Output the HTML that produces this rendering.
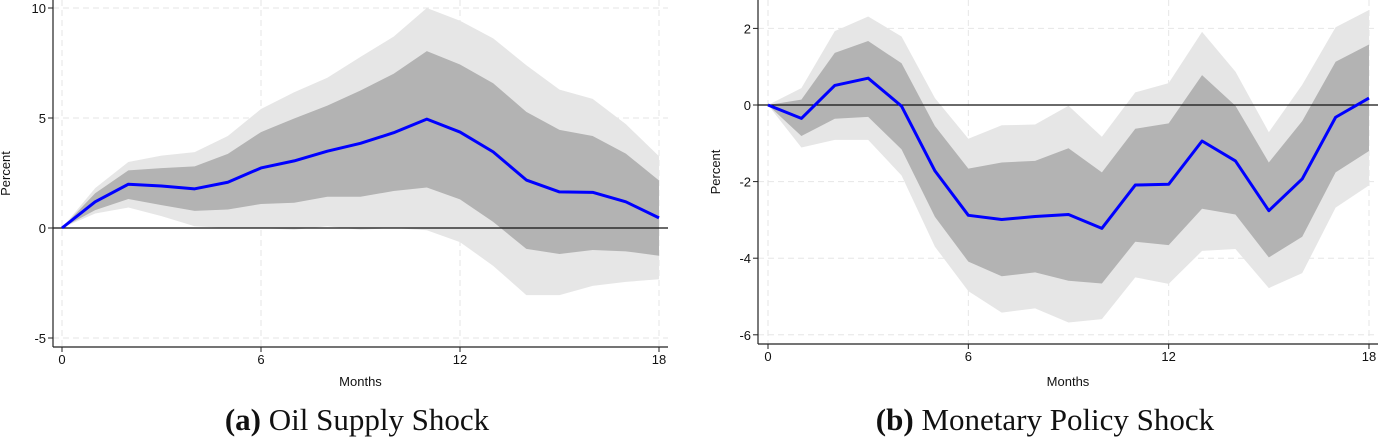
<!DOCTYPE html>
<html><head><meta charset="utf-8"><style>
body{margin:0;background:#fff;width:1382px;height:441px;overflow:hidden}
svg{display:block}
.cap{font-family:"Liberation Serif",serif;font-size:31px;fill:#111}
.tk{font-family:"Liberation Sans",sans-serif;font-size:13px;fill:#111}
</style></head><body>
<svg id="fig" width="1382" height="441" viewBox="0 0 1382 441"></svg>
<script>
const months=[0,1,2,3,4,5,6,7,8,9,10,11,12,13,14,15,16,17,18];
const oilMean=[0,1.19,1.99,1.91,1.78,2.08,2.73,3.05,3.49,3.85,4.33,4.95,4.36,3.46,2.18,1.64,1.62,1.19,0.46];
const oilDarkHi=[0,1.58,2.62,2.72,2.80,3.37,4.36,4.98,5.56,6.25,7.01,8.04,7.43,6.58,5.28,4.46,4.18,3.38,2.16];
const oilDarkLo=[0,0.81,1.32,1.04,0.78,0.84,1.09,1.15,1.42,1.42,1.68,1.84,1.30,0.28,-0.95,-1.18,-1.0,-1.06,-1.26];
const oilLightHi=[0,1.81,3.0,3.29,3.45,4.18,5.41,6.17,6.83,7.78,8.70,10.0,9.42,8.62,7.40,6.29,5.87,4.72,3.26];
const oilLightLo=[0,0.66,0.93,0.54,0.08,0,0,-0.08,0.08,-0.08,0,-0.1,-0.64,-1.72,-3.05,-3.05,-2.63,-2.45,-2.33];
const monMean=[0,-0.35,0.51,0.70,-0.03,-1.72,-2.88,-2.99,-2.91,-2.86,-3.22,-2.09,-2.07,-0.94,-1.46,-2.76,-1.93,-0.32,0.18];
const monDarkHi=[0,0.14,1.36,1.67,1.09,-0.55,-1.66,-1.50,-1.46,-1.13,-1.76,-0.62,-0.48,0.78,-0.02,-1.50,-0.42,1.13,1.58];
const monDarkLo=[0,-0.81,-0.36,-0.31,-1.16,-2.92,-4.09,-4.47,-4.37,-4.59,-4.66,-3.57,-3.66,-2.71,-2.86,-3.98,-3.44,-1.76,-1.2];
const monLightHi=[0,0.44,1.93,2.31,1.79,0.18,-0.88,-0.53,-0.51,-0.02,-0.83,0.33,0.57,1.91,0.87,-0.71,0.53,2.03,2.48];
const monLightLo=[0,-1.11,-0.91,-0.91,-1.84,-3.70,-4.86,-5.42,-5.31,-5.68,-5.59,-4.50,-4.67,-3.81,-3.76,-4.78,-4.39,-2.68,-2.10];
const xTicks=[0,6,12,18];
const oilYTicks=[-5,0,5,10];
const monYTicks=[-6,-4,-2,0,2];

const NS="http://www.w3.org/2000/svg";
const svg=document.getElementById('fig');
function mk(tag,attrs,parent){const e=document.createElementNS(NS,tag);for(const k in attrs)e.setAttribute(k,attrs[k]);(parent||svg).appendChild(e);return e;}

function panel(cfg){
  const g=mk('g',{});
  
  
  const X=m=>cfg.x0+(m-months[0])*(cfg.x1-cfg.x0)/(months[months.length-1]-months[0]);
  const Y=v=>cfg.yZero-v*cfg.yUnit;
  xTicks.forEach(t=>{const l=mk('line',{x1:X(t),x2:X(t),y1:cfg.top,y2:cfg.bottom,stroke:'#e6e6e6','stroke-dasharray':'6,4','stroke-width':1},g);
    });
  cfg.yTicks.forEach(t=>{const l=mk('line',{x1:cfg.axisX,x2:cfg.right,y1:Y(t),y2:Y(t),stroke:'#e6e6e6','stroke-dasharray':'6,4','stroke-width':1},g);
    });
  function band(hi,lo,fill,name){
    let d='M'+months.map((m,i)=>X(m)+','+Y(hi[i])).join('L');
    d+='L'+months.slice().reverse().map((m,j)=>{const i=months.length-1-j;return X(m)+','+Y(lo[i]);}).join('L')+'Z';
    const p=mk('path',{d:d,fill:fill},g);
    
  }
  band(cfg.lh,cfg.ll,'#e6e6e6','band-90');
  band(cfg.dh,cfg.dl,'#b3b3b3','band-68');
  const z=mk('line',{x1:cfg.axisX,x2:cfg.right,y1:Y(0),y2:Y(0),stroke:'#111','stroke-width':1.3},g);
  
  const ln=mk('polyline',{points:months.map((m,i)=>X(m)+','+Y(cfg.mean[i])).join(' '),fill:'none',stroke:'#0000ff','stroke-width':3,'stroke-linejoin':'round'},g);
  
  const ya=mk('line',{x1:cfg.axisX,x2:cfg.axisX,y1:0,y2:cfg.bottom,stroke:'#222','stroke-width':1.2},g);
  
  const xa=mk('line',{x1:cfg.axisX,x2:cfg.right,y1:cfg.bottom,y2:cfg.bottom,stroke:'#222','stroke-width':1.2},g);
  
  xTicks.forEach(t=>{
    mk('line',{x1:X(t),x2:X(t),y1:cfg.bottom,y2:cfg.bottom+5,stroke:'#222'},g);
    const tx=mk('text',{x:X(t),y:cfg.bottom+17,'text-anchor':'middle',class:'tk'},g);tx.textContent=t;
    
  });
  cfg.yTicks.forEach(t=>{
    mk('line',{x1:cfg.axisX-5,x2:cfg.axisX,y1:Y(t),y2:Y(t),stroke:'#222'},g);
    const tx=mk('text',{x:cfg.axisX-7,y:Y(t)+5,'text-anchor':'end',class:'tk'},g);tx.textContent=t;
    
  });
  const xt=mk('text',{x:(cfg.axisX+cfg.right)/2,y:386,'text-anchor':'middle',class:'tk'},g);xt.textContent='Months';
  
  const yt=mk('text',{x:0,y:0,'text-anchor':'middle',class:'tk',transform:`translate(${cfg.ylabX},${(cfg.top+cfg.bottom)/2}) rotate(-90)`},g);yt.textContent='Percent';
  
  const cap=mk('text',{x:cfg.capX,y:430,'text-anchor':'middle',class:'cap'},g);
  const b=mk('tspan',{'font-weight':'bold'},cap);b.textContent=cfg.capL;
  const r=mk('tspan',{},cap);r.textContent=' '+cfg.capT;
  
}
panel({name:'oil-supply-panel',x0:62,x1:659,axisX:53,right:668,top:0,bottom:347,yZero:228,yUnit:22,yTicks:oilYTicks,
  mean:oilMean,dh:oilDarkHi,dl:oilDarkLo,lh:oilLightHi,ll:oilLightLo,ylabX:10,capX:357,capL:'(a)',capT:'Oil Supply Shock'});
panel({name:'monetary-policy-panel',x0:768,x1:1369,axisX:758,right:1378,top:0,bottom:344,yZero:105,yUnit:38.3,yTicks:monYTicks,
  mean:monMean,dh:monDarkHi,dl:monDarkLo,lh:monLightHi,ll:monLightLo,ylabX:720,capX:1045,capL:'(b)',capT:'Monetary Policy Shock'});
</script>
</body></html>
